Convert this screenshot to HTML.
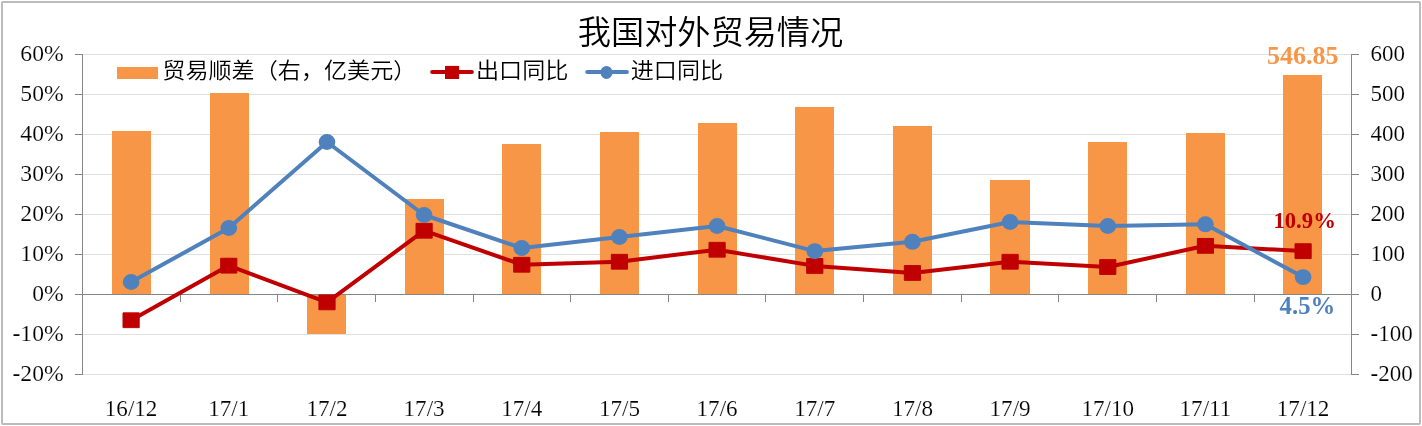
<!DOCTYPE html>
<html lang="zh"><head><meta charset="utf-8"><title>我国对外贸易情况</title>
<style>html,body{margin:0;padding:0;background:#fff;}body{width:1422px;height:426px;overflow:hidden;}svg{display:block;will-change:transform;}text{white-space:pre;}</style>
</head><body>
<svg width="1422" height="426" viewBox="0 0 1422 426">
<rect x="2" y="2" width="1418" height="422" rx="0.7" fill="none" stroke="#BCBCBC" stroke-width="2"/>
<line x1="82.5" y1="54.5" x2="1351.5" y2="54.5" stroke="#E0E0E0" stroke-width="1"/>
<line x1="82.5" y1="94.5" x2="1351.5" y2="94.5" stroke="#E0E0E0" stroke-width="1"/>
<line x1="82.5" y1="134.5" x2="1351.5" y2="134.5" stroke="#E0E0E0" stroke-width="1"/>
<line x1="82.5" y1="174.5" x2="1351.5" y2="174.5" stroke="#E0E0E0" stroke-width="1"/>
<line x1="82.5" y1="214.5" x2="1351.5" y2="214.5" stroke="#E0E0E0" stroke-width="1"/>
<line x1="82.5" y1="254.5" x2="1351.5" y2="254.5" stroke="#E0E0E0" stroke-width="1"/>
<line x1="82.5" y1="334.5" x2="1351.5" y2="334.5" stroke="#E0E0E0" stroke-width="1"/>
<line x1="82.5" y1="374.5" x2="1351.5" y2="374.5" stroke="#E0E0E0" stroke-width="1"/>
<rect x="112" y="131" width="39" height="163" fill="#F79646"/>
<rect x="210" y="93" width="39" height="201" fill="#F79646"/>
<rect x="307" y="295" width="39" height="39" fill="#F79646"/>
<rect x="405" y="199" width="39" height="95" fill="#F79646"/>
<rect x="502" y="144" width="39" height="150" fill="#F79646"/>
<rect x="600" y="132" width="39" height="162" fill="#F79646"/>
<rect x="698" y="123" width="39" height="171" fill="#F79646"/>
<rect x="795" y="107" width="39" height="187" fill="#F79646"/>
<rect x="893" y="126" width="39" height="168" fill="#F79646"/>
<rect x="990" y="180" width="40" height="114" fill="#F79646"/>
<rect x="1088" y="142" width="39" height="152" fill="#F79646"/>
<rect x="1186" y="133" width="39" height="161" fill="#F79646"/>
<rect x="1283" y="75" width="39" height="219" fill="#F79646"/>
<g stroke="#868686" stroke-width="1" fill="none">
<line x1="82.5" y1="54" x2="82.5" y2="375"/>
<line x1="1351.5" y1="54" x2="1351.5" y2="375"/>
<line x1="75" y1="294.5" x2="1359" y2="294.5"/>
<line x1="75" y1="54.5" x2="82.5" y2="54.5"/>
<line x1="1351.5" y1="54.5" x2="1359" y2="54.5"/>
<line x1="75" y1="94.5" x2="82.5" y2="94.5"/>
<line x1="1351.5" y1="94.5" x2="1359" y2="94.5"/>
<line x1="75" y1="134.5" x2="82.5" y2="134.5"/>
<line x1="1351.5" y1="134.5" x2="1359" y2="134.5"/>
<line x1="75" y1="174.5" x2="82.5" y2="174.5"/>
<line x1="1351.5" y1="174.5" x2="1359" y2="174.5"/>
<line x1="75" y1="214.5" x2="82.5" y2="214.5"/>
<line x1="1351.5" y1="214.5" x2="1359" y2="214.5"/>
<line x1="75" y1="254.5" x2="82.5" y2="254.5"/>
<line x1="1351.5" y1="254.5" x2="1359" y2="254.5"/>
<line x1="75" y1="294.5" x2="82.5" y2="294.5"/>
<line x1="1351.5" y1="294.5" x2="1359" y2="294.5"/>
<line x1="75" y1="334.5" x2="82.5" y2="334.5"/>
<line x1="1351.5" y1="334.5" x2="1359" y2="334.5"/>
<line x1="75" y1="374.5" x2="82.5" y2="374.5"/>
<line x1="1351.5" y1="374.5" x2="1359" y2="374.5"/>
<line x1="180.5" y1="294.5" x2="180.5" y2="302"/>
<line x1="277.5" y1="294.5" x2="277.5" y2="302"/>
<line x1="375.5" y1="294.5" x2="375.5" y2="302"/>
<line x1="473.5" y1="294.5" x2="473.5" y2="302"/>
<line x1="570.5" y1="294.5" x2="570.5" y2="302"/>
<line x1="668.5" y1="294.5" x2="668.5" y2="302"/>
<line x1="765.5" y1="294.5" x2="765.5" y2="302"/>
<line x1="863.5" y1="294.5" x2="863.5" y2="302"/>
<line x1="961.5" y1="294.5" x2="961.5" y2="302"/>
<line x1="1058.5" y1="294.5" x2="1058.5" y2="302"/>
<line x1="1156.5" y1="294.5" x2="1156.5" y2="302"/>
<line x1="1254.5" y1="294.5" x2="1254.5" y2="302"/>
</g>
<polyline points="131.1,320.2 228.8,265.6 327.0,302.3 424.1,230.7 521.8,264.7 619.4,261.7 717.1,249.7 814.8,265.9 912.4,272.9 1010.1,261.7 1107.8,267.0 1205.4,245.8 1303.1,251.1" fill="none" stroke="#C00000" stroke-width="4" stroke-linejoin="round" stroke-linecap="round"/>
<rect x="123.00" y="312.85" width="16.2" height="14.8" fill="#C00000" stroke="#C00000" stroke-width="1" stroke-linejoin="round"/>
<rect x="220.67" y="258.25" width="16.2" height="14.8" fill="#C00000" stroke="#C00000" stroke-width="1" stroke-linejoin="round"/>
<rect x="318.90" y="294.95" width="16.2" height="14.8" fill="#C00000" stroke="#C00000" stroke-width="1" stroke-linejoin="round"/>
<rect x="416.00" y="223.35" width="16.2" height="14.8" fill="#C00000" stroke="#C00000" stroke-width="1" stroke-linejoin="round"/>
<rect x="513.67" y="257.35" width="16.2" height="14.8" fill="#C00000" stroke="#C00000" stroke-width="1" stroke-linejoin="round"/>
<rect x="611.34" y="254.35" width="16.2" height="14.8" fill="#C00000" stroke="#C00000" stroke-width="1" stroke-linejoin="round"/>
<rect x="709.00" y="242.35" width="16.2" height="14.8" fill="#C00000" stroke="#C00000" stroke-width="1" stroke-linejoin="round"/>
<rect x="806.67" y="258.55" width="16.2" height="14.8" fill="#C00000" stroke="#C00000" stroke-width="1" stroke-linejoin="round"/>
<rect x="904.34" y="265.55" width="16.2" height="14.8" fill="#C00000" stroke="#C00000" stroke-width="1" stroke-linejoin="round"/>
<rect x="1002.00" y="254.35" width="16.2" height="14.8" fill="#C00000" stroke="#C00000" stroke-width="1" stroke-linejoin="round"/>
<rect x="1099.67" y="259.65" width="16.2" height="14.8" fill="#C00000" stroke="#C00000" stroke-width="1" stroke-linejoin="round"/>
<rect x="1197.34" y="238.45" width="16.2" height="14.8" fill="#C00000" stroke="#C00000" stroke-width="1" stroke-linejoin="round"/>
<rect x="1295.00" y="243.75" width="16.2" height="14.8" fill="#C00000" stroke="#C00000" stroke-width="1" stroke-linejoin="round"/>
<polyline points="131.1,282.0 228.8,228.0 327.0,142.0 424.1,215.0 521.8,248.0 619.4,237.0 717.1,226.0 814.8,251.1 912.4,241.8 1010.1,222.0 1107.8,226.0 1205.4,224.3 1303.1,277.1" fill="none" stroke="#4F81BD" stroke-width="4" stroke-linejoin="round" stroke-linecap="round"/>
<ellipse cx="131.1" cy="282.0" rx="8.35" ry="7.95" fill="#4F81BD"/>
<ellipse cx="228.8" cy="228.0" rx="8.35" ry="7.95" fill="#4F81BD"/>
<ellipse cx="327.0" cy="142.0" rx="8.35" ry="7.95" fill="#4F81BD"/>
<ellipse cx="424.1" cy="215.0" rx="8.35" ry="7.95" fill="#4F81BD"/>
<ellipse cx="521.8" cy="248.0" rx="8.35" ry="7.95" fill="#4F81BD"/>
<ellipse cx="619.4" cy="237.0" rx="8.35" ry="7.95" fill="#4F81BD"/>
<ellipse cx="717.1" cy="226.0" rx="8.35" ry="7.95" fill="#4F81BD"/>
<ellipse cx="814.8" cy="251.1" rx="8.35" ry="7.95" fill="#4F81BD"/>
<ellipse cx="912.4" cy="241.8" rx="8.35" ry="7.95" fill="#4F81BD"/>
<ellipse cx="1010.1" cy="222.0" rx="8.35" ry="7.95" fill="#4F81BD"/>
<ellipse cx="1107.8" cy="226.0" rx="8.35" ry="7.95" fill="#4F81BD"/>
<ellipse cx="1205.4" cy="224.3" rx="8.35" ry="7.95" fill="#4F81BD"/>
<ellipse cx="1303.1" cy="277.1" rx="8.35" ry="7.95" fill="#4F81BD"/>
<text transform="translate(63.70,60.80) scale(1.0300,1)" font-family='"Liberation Serif", serif' font-size="23.00" text-anchor="end" fill="#000" font-weight="normal" stroke="#fff" stroke-width="0.15">60%</text>
<text transform="translate(63.70,100.80) scale(1.0300,1)" font-family='"Liberation Serif", serif' font-size="23.00" text-anchor="end" fill="#000" font-weight="normal" stroke="#fff" stroke-width="0.15">50%</text>
<text transform="translate(63.70,140.80) scale(1.0300,1)" font-family='"Liberation Serif", serif' font-size="23.00" text-anchor="end" fill="#000" font-weight="normal" stroke="#fff" stroke-width="0.15">40%</text>
<text transform="translate(63.70,180.80) scale(1.0300,1)" font-family='"Liberation Serif", serif' font-size="23.00" text-anchor="end" fill="#000" font-weight="normal" stroke="#fff" stroke-width="0.15">30%</text>
<text transform="translate(63.70,220.80) scale(1.0300,1)" font-family='"Liberation Serif", serif' font-size="23.00" text-anchor="end" fill="#000" font-weight="normal" stroke="#fff" stroke-width="0.15">20%</text>
<text transform="translate(63.70,260.80) scale(1.0300,1)" font-family='"Liberation Serif", serif' font-size="23.00" text-anchor="end" fill="#000" font-weight="normal" stroke="#fff" stroke-width="0.15">10%</text>
<text transform="translate(63.70,300.80) scale(1.0300,1)" font-family='"Liberation Serif", serif' font-size="23.00" text-anchor="end" fill="#000" font-weight="normal" stroke="#fff" stroke-width="0.15">0%</text>
<text transform="translate(63.70,340.80) scale(1.0300,1)" font-family='"Liberation Serif", serif' font-size="23.00" text-anchor="end" fill="#000" font-weight="normal" stroke="#fff" stroke-width="0.15">-10%</text>
<text transform="translate(63.70,380.80) scale(1.0300,1)" font-family='"Liberation Serif", serif' font-size="23.00" text-anchor="end" fill="#000" font-weight="normal" stroke="#fff" stroke-width="0.15">-20%</text>
<text transform="translate(1370.50,60.70) scale(1.0000,1)" font-family='"Liberation Serif", serif' font-size="23.00" text-anchor="start" fill="#000" font-weight="normal" stroke="#fff" stroke-width="0.15">600</text>
<text transform="translate(1370.50,100.70) scale(1.0000,1)" font-family='"Liberation Serif", serif' font-size="23.00" text-anchor="start" fill="#000" font-weight="normal" stroke="#fff" stroke-width="0.15">500</text>
<text transform="translate(1370.50,140.70) scale(1.0000,1)" font-family='"Liberation Serif", serif' font-size="23.00" text-anchor="start" fill="#000" font-weight="normal" stroke="#fff" stroke-width="0.15">400</text>
<text transform="translate(1370.50,180.70) scale(1.0000,1)" font-family='"Liberation Serif", serif' font-size="23.00" text-anchor="start" fill="#000" font-weight="normal" stroke="#fff" stroke-width="0.15">300</text>
<text transform="translate(1370.50,220.70) scale(1.0000,1)" font-family='"Liberation Serif", serif' font-size="23.00" text-anchor="start" fill="#000" font-weight="normal" stroke="#fff" stroke-width="0.15">200</text>
<text transform="translate(1370.50,260.70) scale(1.0000,1)" font-family='"Liberation Serif", serif' font-size="23.00" text-anchor="start" fill="#000" font-weight="normal" stroke="#fff" stroke-width="0.15">100</text>
<text transform="translate(1370.50,300.70) scale(1.0000,1)" font-family='"Liberation Serif", serif' font-size="23.00" text-anchor="start" fill="#000" font-weight="normal" stroke="#fff" stroke-width="0.15">0</text>
<text transform="translate(1370.50,340.70) scale(1.0000,1)" font-family='"Liberation Serif", serif' font-size="23.00" text-anchor="start" fill="#000" font-weight="normal" stroke="#fff" stroke-width="0.15">-100</text>
<text transform="translate(1370.50,380.70) scale(1.0000,1)" font-family='"Liberation Serif", serif' font-size="23.00" text-anchor="start" fill="#000" font-weight="normal" stroke="#fff" stroke-width="0.15">-200</text>
<text transform="translate(131.10,416.00) scale(1.0050,1)" font-family='"Liberation Serif", serif' font-size="23.00" text-anchor="middle" fill="#000" font-weight="normal" stroke="#fff" stroke-width="0.15">16/12</text>
<text transform="translate(228.77,416.00) scale(1.0050,1)" font-family='"Liberation Serif", serif' font-size="23.00" text-anchor="middle" fill="#000" font-weight="normal" stroke="#fff" stroke-width="0.15">17/1</text>
<text transform="translate(327.00,416.00) scale(1.0050,1)" font-family='"Liberation Serif", serif' font-size="23.00" text-anchor="middle" fill="#000" font-weight="normal" stroke="#fff" stroke-width="0.15">17/2</text>
<text transform="translate(424.10,416.00) scale(1.0050,1)" font-family='"Liberation Serif", serif' font-size="23.00" text-anchor="middle" fill="#000" font-weight="normal" stroke="#fff" stroke-width="0.15">17/3</text>
<text transform="translate(521.77,416.00) scale(1.0050,1)" font-family='"Liberation Serif", serif' font-size="23.00" text-anchor="middle" fill="#000" font-weight="normal" stroke="#fff" stroke-width="0.15">17/4</text>
<text transform="translate(619.44,416.00) scale(1.0050,1)" font-family='"Liberation Serif", serif' font-size="23.00" text-anchor="middle" fill="#000" font-weight="normal" stroke="#fff" stroke-width="0.15">17/5</text>
<text transform="translate(717.10,416.00) scale(1.0050,1)" font-family='"Liberation Serif", serif' font-size="23.00" text-anchor="middle" fill="#000" font-weight="normal" stroke="#fff" stroke-width="0.15">17/6</text>
<text transform="translate(814.77,416.00) scale(1.0050,1)" font-family='"Liberation Serif", serif' font-size="23.00" text-anchor="middle" fill="#000" font-weight="normal" stroke="#fff" stroke-width="0.15">17/7</text>
<text transform="translate(912.44,416.00) scale(1.0050,1)" font-family='"Liberation Serif", serif' font-size="23.00" text-anchor="middle" fill="#000" font-weight="normal" stroke="#fff" stroke-width="0.15">17/8</text>
<text transform="translate(1010.10,416.00) scale(1.0050,1)" font-family='"Liberation Serif", serif' font-size="23.00" text-anchor="middle" fill="#000" font-weight="normal" stroke="#fff" stroke-width="0.15">17/9</text>
<text transform="translate(1107.77,416.00) scale(1.0050,1)" font-family='"Liberation Serif", serif' font-size="23.00" text-anchor="middle" fill="#000" font-weight="normal" stroke="#fff" stroke-width="0.15">17/10</text>
<text transform="translate(1205.44,416.00) scale(1.0050,1)" font-family='"Liberation Serif", serif' font-size="23.00" text-anchor="middle" fill="#000" font-weight="normal" stroke="#fff" stroke-width="0.15">17/11</text>
<text transform="translate(1303.10,416.00) scale(1.0050,1)" font-family='"Liberation Serif", serif' font-size="23.00" text-anchor="middle" fill="#000" font-weight="normal" stroke="#fff" stroke-width="0.15">17/12</text>
<text transform="translate(710.50,43.60) scale(1.0060,1)" font-family='"Liberation Sans", "Noto Sans CJK SC", sans-serif' font-size="33.00" text-anchor="middle" fill="#000" font-weight="350">我国对外贸易情况</text>
<rect x="117" y="67" width="41" height="12" fill="#F79646"/>
<text transform="translate(162.30,77.80) scale(1.0600,1)" font-family='"Liberation Sans", "Noto Sans CJK SC", sans-serif' font-size="21.80" text-anchor="start" fill="#000" font-weight="350">贸易顺差（右，亿美元）</text>
<line x1="432.2" y1="72" x2="471.9" y2="72" stroke="#C00000" stroke-width="4" stroke-linecap="round"/>
<rect x="445" y="65.9" width="14.1" height="13.1" fill="#C00000"/>
<text transform="translate(476.00,77.80) scale(1.0600,1)" font-family='"Liberation Sans", "Noto Sans CJK SC", sans-serif' font-size="21.80" text-anchor="start" fill="#000" font-weight="350">出口同比</text>
<line x1="587.2" y1="72" x2="626.9" y2="72" stroke="#4F81BD" stroke-width="4" stroke-linecap="round"/>
<ellipse cx="606.5" cy="72.4" rx="6.0" ry="6.5" fill="#4F81BD"/>
<text transform="translate(630.70,77.80) scale(1.0600,1)" font-family='"Liberation Sans", "Noto Sans CJK SC", sans-serif' font-size="21.80" text-anchor="start" fill="#000" font-weight="350">进口同比</text>
<text transform="translate(1266.90,63.60) scale(1.0420,1)" font-family='"Liberation Serif", serif' font-size="25.00" text-anchor="start" fill="#F79646" font-weight="bold">546.85</text>
<text transform="translate(1273.40,228.30) scale(0.9750,1)" font-family='"Liberation Serif", serif' font-size="23.30" text-anchor="start" fill="#C00000" font-weight="bold">10.9%</text>
<text transform="translate(1279.60,313.80) scale(0.9900,1)" font-family='"Liberation Serif", serif' font-size="25.00" text-anchor="start" fill="#4F81BD" font-weight="bold">4.5%</text>
</svg>
</body></html>
